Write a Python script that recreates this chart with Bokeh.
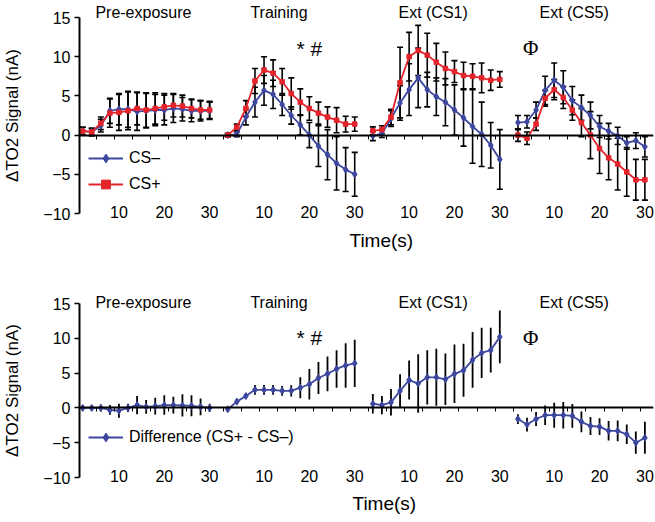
import math
from bokeh.plotting import figure
from bokeh.models import (Range1d, LinearAxis, FixedTicker, ColumnDataSource, Whisker,
                          TeeHead, Label, Legend, LegendItem, Title)
from bokeh.layouts import column
from bokeh.embed import file_html
from bokeh.resources import INLINE

# ---------------- data ----------------
segments = ["Pre-exposure", "Training", "Ext (CS1)", "Ext (CS5)"]
time_s = [2, 4, 6, 8, 10, 12, 14, 16, 18, 20, 22, 24, 26, 28, 30]
seg_offset = 32
tick_labels = [10, 20, 30]
y_ticks = [-10, -5, 0, 5, 10, 15]

cs_minus_pre = [0.5, 0.4, 1.2, 3.1, 3.3, 3.3, 3.0, 3.1, 3.2, 3.2, 3.4, 3.3, 3.1, 3.1, 3.1]
cs_minus_train = [0.0, 0.1, 2.3, 4.2, 5.7, 5.2, 3.9, 2.5, 1.3, 0.0, -1.4, -2.5, -3.6, -4.4, -5.0]
cs_minus_cs1 = [-0.1, 0.2, 2.1, 4.1, 5.8, 7.3, 5.8, 4.9, 4.2, 3.2, 2.2, 1.1, 0.1, -1.3, -3.1]
cs_minus_cs5 = [1.6, 1.7, 3.2, 5.7, 7.0, 6.1, 4.4, 3.5, 2.5, 1.1, 0.5, -0.1, -1.0, -0.7, -1.5]

cs_plus_pre = [0.5, 0.4, 1.5, 2.8, 2.9, 3.1, 3.4, 3.2, 3.4, 3.6, 3.8, 3.7, 3.4, 3.2, 3.2]
cs_plus_train = [0.0, 1.0, 3.4, 6.9, 8.3, 7.9, 6.8, 5.3, 4.2, 3.4, 2.8, 2.3, 1.9, 1.4, 1.4]
cs_plus_cs1 = [0.55, 0.7, 2.3, 6.7, 10.0, 10.8, 10.2, 9.3, 8.5, 8.1, 7.6, 7.5, 7.3, 7.0, 7.1]
cs_plus_cs5 = [0.0, -0.4, 1.4, 4.7, 5.8, 4.8, 3.2, 1.6, 0.0, -1.7, -2.9, -3.7, -4.7, -5.7, -5.7]

cs_minus_err_pre = [0.5, 0.5, 0.8, 1.6, 2.0, 2.3, 2.4, 2.2, 2.0, 1.9, 1.8, 1.5, 1.4, 1.3, 1.1]
cs_minus_err_train = [0.2, 0.3, 1.0, 1.9, 1.9, 1.8, 1.4, 1.1, 1.3, 1.6, 2.6, 3.2, 3.4, 2.8, 2.8]
cs_minus_err_cs1 = [0.6, 0.5, 1.0, 2.2, 3.3, 3.8, 2.2, 2.4, 3.0, 3.2, 3.6, 4.7, 4.1, 2.9, 3.8]
cs_minus_err_cs5 = [0.9, 0.8, 1.0, 1.8, 2.2, 2.1, 1.8, 1.6, 1.7, 1.4, 1.0, 1.1, 0.8, 1.0, 1.3]

cs_plus_err_pre = [0.5, 0.4, 0.8, 1.8, 2.3, 2.4, 2.1, 2.2, 2.0, 1.7, 1.5, 1.4, 1.2, 1.2, 1.1]
cs_plus_err_train = [0.2, 0.4, 1.0, 1.6, 1.7, 1.7, 1.7, 2.0, 1.7, 1.5, 1.4, 1.3, 1.6, 1.0, 0.9]
cs_plus_err_cs1 = [0.5, 0.5, 1.0, 4.5, 3.1, 3.2, 2.8, 2.4, 2.1, 1.4, 1.7, 1.6, 1.9, 1.3, 1.0]
cs_plus_err_cs5 = [0.8, 0.8, 0.8, 1.0, 1.3, 1.4, 1.3, 1.8, 3.0, 3.2, 2.8, 3.3, 3.1, 2.6, 2.6]

diff_pre = [0.0, 0.0, 0.0, -0.3, -0.4, 0.0, 0.4, 0.15, 0.25, 0.4, 0.4, 0.35, 0.3, 0.15, 0.0]
diff_train = [-0.2, 0.9, 1.7, 2.6, 2.6, 2.6, 2.45, 2.45, 2.9, 3.4, 4.3, 4.9, 5.6, 6.1, 6.4]
diff_cs1 = [0.6, 0.4, 0.8, 2.45, 4.0, 3.5, 4.4, 4.4, 4.1, 4.9, 5.4, 6.9, 7.9, 8.3, 10.2]
diff_cs5 = [-1.6, -2.4, -1.6, -1.05, -1.05, -1.05, -1.15, -2.0, -2.6, -2.7, -3.3, -3.3, -3.8, -5.0, -4.3]

diff_err_pre = [0.3, 0.4, 0.5, 0.7, 1.0, 0.6, 1.3, 1.0, 1.2, 1.4, 1.2, 1.6, 1.5, 1.2, 0.6]
diff_err_train = [0.2, 0.4, 0.4, 0.7, 0.7, 0.7, 0.7, 0.8, 1.5, 2.2, 2.3, 2.5, 2.7, 3.2, 3.4]
diff_err_cs1 = [1.4, 1.3, 1.9, 2.4, 2.8, 4.2, 3.9, 4.1, 3.7, 4.2, 3.8, 4.0, 3.6, 3.2, 3.8]
diff_err_cs5 = [0.7, 1.0, 1.0, 1.4, 1.8, 1.9, 1.7, 1.5, 1.3, 1.2, 1.4, 1.5, 1.4, 1.6, 2.3]

cs_minus = [cs_minus_pre, cs_minus_train, cs_minus_cs1, cs_minus_cs5]
cs_plus = [cs_plus_pre, cs_plus_train, cs_plus_cs1, cs_plus_cs5]
cs_minus_err = [cs_minus_err_pre, cs_minus_err_train, cs_minus_err_cs1, cs_minus_err_cs5]
cs_plus_err = [cs_plus_err_pre, cs_plus_err_train, cs_plus_err_cs1, cs_plus_err_cs5]
diff = [diff_pre, diff_train, diff_cs1, diff_cs5]
diff_err = [diff_err_pre, diff_err_train, diff_err_cs1, diff_err_cs5]

# ---------------- style / layout ----------------
BLUE = "#3d479e"
RED = "#e3242b"
FONT = "Liberation Sans"
title_pos = [15.4, 13.3, 15.3, 14.4]   # title centre within each segment
X_RANGE = (1.3, 127.9)
Y_RANGE = (-10, 15)


def seg_x(k):
    return [seg_offset * k + t for t in time_s]


def flat(lists):
    return [v for l in lists for v in l]


all_x = flat([seg_x(k) for k in range(4)])
label_ticks = [seg_offset * k + t for k in range(4) for t in tick_labels]
zero_ticks = list(range(5, 128, 4))
title_ticks = [seg_offset * k + title_pos[k] for k in range(4)]


def base_fig(height, top, bottom, title_standoff, time_standoff, time_offset):
    p = figure(width=655, height=height, x_range=Range1d(*X_RANGE), y_range=Range1d(*Y_RANGE),
               output_backend="svg", toolbar_location=None,
               min_border_left=77, min_border_right=2, min_border_top=top, min_border_bottom=bottom)
    p.outline_line_color = None
    p.xgrid.visible = False
    p.ygrid.visible = False
    # y axis
    ya = p.yaxis[0]
    ya.ticker = FixedTicker(ticks=y_ticks)
    ya.major_label_overrides = {v: (("\u2212" + str(-v)) if v < 0 else str(v)) for v in y_ticks}
    ya.major_tick_in = 0
    ya.major_tick_out = 5
    ya.major_tick_line_width = 1.5
    ya.axis_line_width = 2
    ya.major_label_standoff = 4
    ya.major_label_text_font = FONT
    ya.major_label_text_font_size = "16px"
    ya.major_label_text_color = "black"
    ya.axis_label = "\u0394TO2 Signal (nA)"
    ya.axis_label_text_font = FONT
    ya.axis_label_text_font_size = "17px"
    ya.axis_label_text_font_style = "normal"
    ya.axis_label_text_color = "black"
    ya.axis_label_standoff = 18
    # x label axis (labels only, level with y = -10)
    xa = p.xaxis[0]
    xa.ticker = FixedTicker(ticks=label_ticks)
    xa.major_label_overrides = {v: str(tick_labels[i % 3]) for i, v in enumerate(label_ticks)}
    xa.axis_line_color = None
    xa.major_tick_line_color = None
    xa.major_tick_in = 0
    xa.major_tick_out = 0
    xa.major_label_standoff = -8
    xa.major_label_text_font = FONT
    xa.major_label_text_font_size = "16px"
    xa.major_label_text_color = "black"
    # zero line axis with small ticks
    za = LinearAxis(fixed_location=0, ticker=FixedTicker(ticks=zero_ticks))
    za.major_label_text_font_size = "0px"
    za.major_label_standoff = -4
    za.major_tick_in = 0
    za.major_tick_out = 4
    za.major_tick_line_width = 1
    za.axis_line_width = 1.8
    p.add_layout(za, "below")
    # x axis title
    p.add_layout(Title(text="Time(s)", align="left", offset=time_offset, standoff=time_standoff,
                       text_font=FONT, text_font_size="19px", text_font_style="normal",
                       text_color="black"), "below")
    # segment titles: labels of an axis above the frame
    ta = LinearAxis(ticker=FixedTicker(ticks=title_ticks))
    ta.major_label_overrides = {v: segments[i] for i, v in enumerate(title_ticks)}
    ta.axis_line_color = None
    ta.major_tick_line_color = None
    ta.major_tick_in = 0
    ta.major_tick_out = 0
    ta.major_label_standoff = title_standoff
    ta.major_label_text_font = FONT
    ta.major_label_text_font_size = "16px"
    ta.major_label_text_color = "black"
    p.add_layout(ta, "above")
    return p


def add_marks(p, y_star):
    p.add_layout(Label(x=seg_offset * 1 + 20, y=y_star, text="* #", text_align="center",
                       text_baseline="alphabetic", text_font=FONT, text_font_size="21px",
                       text_color="black"))
    p.add_layout(Label(x=seg_offset * 3 + 4.8, y=y_star, text="\u03a6", text_align="center",
                       text_baseline="alphabetic", text_font="Liberation Serif", text_font_size="21px",
                       text_color="black"))


def legend(p, items, y_loc):
    lg = Legend(items=items, location=(9, y_loc), orientation="vertical",
                label_text_font=FONT, label_text_font_size="16px", label_text_color="black",
                glyph_width=35, glyph_height=22, label_height=22, spacing=4, padding=0, margin=0,
                label_standoff=6, border_line_color=None, background_fill_alpha=0)
    p.add_layout(lg)


# ---------------- top panel ----------------
p1 = base_fig(258, 17, 45, -3, 14, 270)

for vals, errs in ((cs_minus, cs_minus_err), (cs_plus, cs_plus_err)):
    yv = flat(vals)
    ev = flat(errs)
    src = ColumnDataSource(dict(x=all_x, upper=[a + b for a, b in zip(yv, ev)],
                                lower=[a - b for a, b in zip(yv, ev)]))
    p1.add_layout(Whisker(base="x", upper="upper", lower="lower", source=src, dimension="height",
                          line_color="black", line_width=1.6,
                          upper_head=TeeHead(size=6, line_color="black", line_width=1.6),
                          lower_head=TeeHead(size=6, line_color="black", line_width=1.6)))

ml_minus = p1.multi_line(xs=[seg_x(k) for k in range(4)], ys=cs_minus, line_color=BLUE, line_width=1.8)
sc_minus = p1.scatter(x=all_x, y=flat(cs_minus), marker="diamond", size=7, color=BLUE)
ml_plus = p1.multi_line(xs=[seg_x(k) for k in range(4)], ys=cs_plus, line_color=RED, line_width=1.8)
sc_plus = p1.scatter(x=all_x, y=flat(cs_plus), marker="square", size=4.5, color=RED)

legend(p1, [LegendItem(label="CS\u2013", renderers=[ml_minus, sc_minus]),
            LegendItem(label="CS+", renderers=[ml_plus, sc_plus])], 18)
add_marks(p1, 11.06)

# ---------------- bottom panel ----------------
p2 = base_fig(264, 45, 45, -7, 12, 273)

dv = flat(diff)
de = flat(diff_err)
src2 = ColumnDataSource(dict(x=all_x, upper=[a + b for a, b in zip(dv, de)],
                             lower=[a - b for a, b in zip(dv, de)]))
p2.add_layout(Whisker(base="x", upper="upper", lower="lower", source=src2, dimension="height",
                      line_color="black", line_width=1.8, upper_head=None, lower_head=None))
ml_d = p2.multi_line(xs=[seg_x(k) for k in range(4)], ys=diff, line_color=BLUE, line_width=1.8)
sc_d = p2.scatter(x=all_x, y=dv, marker="diamond", size=7, color=BLUE)

legend(p2, [LegendItem(label="Difference (CS+ - CS\u2013)", renderers=[ml_d, sc_d])], 29)
add_marks(p2, 10.1)

layout = column(p1, p2)
open("out.html", "w").write(file_html(layout, INLINE))
